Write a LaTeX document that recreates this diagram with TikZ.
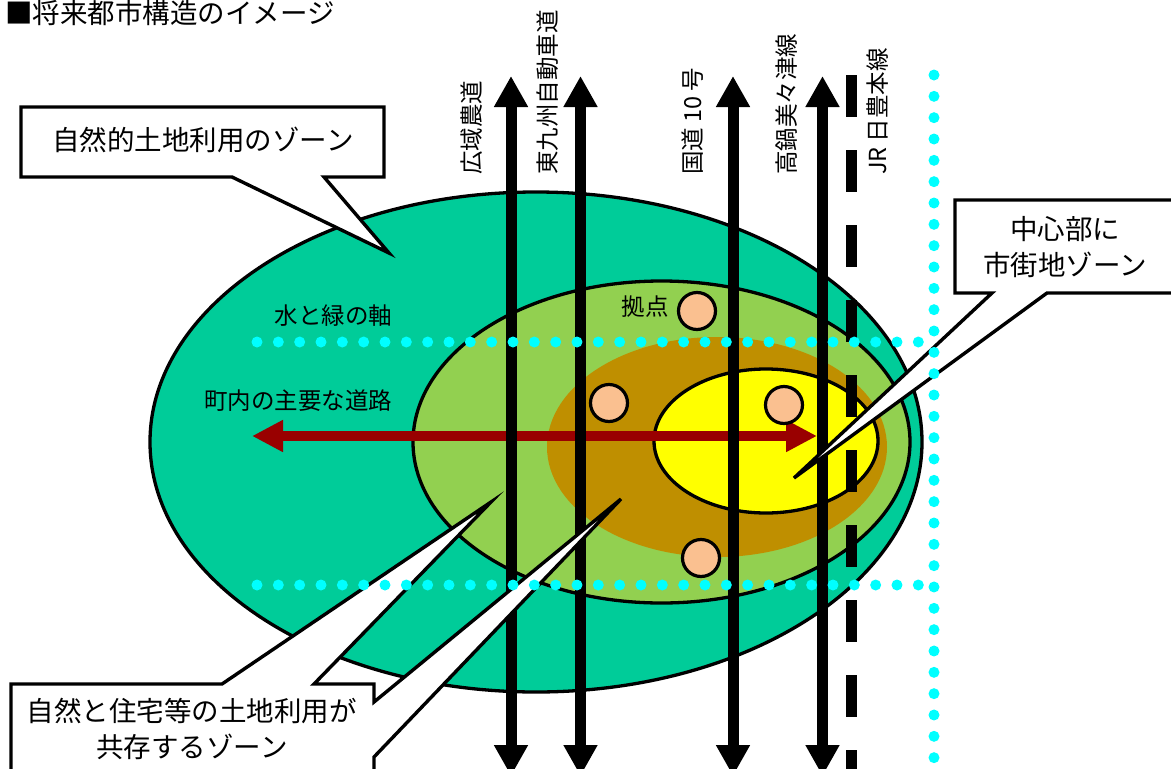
\documentclass[tikz,border=0pt]{standalone}
\usepackage{fontspec}
\setmainfont{Noto Sans CJK JP}
\usetikzlibrary{arrows.meta}
\definecolor{zoneTeal}{HTML}{00CC99}
\definecolor{zoneGreen}{HTML}{92D050}
\definecolor{zoneBrown}{HTML}{BF8F00}
\definecolor{zoneYellow}{HTML}{FFFF00}
\definecolor{baseDot}{HTML}{FAC090}
\definecolor{mainRoad}{HTML}{990000}
\definecolor{axisCyan}{HTML}{00FFFF}
\tikzset{
  zoneline/.style={draw=black, line width=3.3pt},
  roadline/.style={line width=11pt, black, {Triangle[length=31pt,width=32pt]}-{Triangle[length=31pt,width=32pt]}},
  jrline/.style={line width=11pt, black, dash pattern=on 42pt off 33pt},
  redroad/.style={line width=10pt, mainRoad, {Triangle[length=31pt,width=30pt]}-{Triangle[length=31pt,width=30pt]}},
  basept/.style={fill=baseDot, draw=black, line width=3.2pt},
  callout/.style={fill=white, draw=black, line width=3.4pt, line join=miter},
  bigtext/.style={font=\fontsize{27.5}{36}\selectfont, inner sep=0pt, align=center},
  smalltext/.style={font=\fontsize{23.5}{28}\selectfont, inner sep=0pt},
  vlabel/.style={smalltext, rotate=90, anchor=west},
  cyandot/.style={fill=axisCyan}
}
\begin{document}
\begin{tikzpicture}[x=1pt,y=-1pt]
\useasboundingbox (0,0) rectangle (1171,769);
% zones
\draw[zoneline, fill=zoneTeal] (536,442) ellipse [x radius=386, y radius=250];
\draw[zoneline, fill=zoneGreen] (661.5,442) ellipse [x radius=248.5, y radius=161];
\fill[zoneBrown] (717,447) ellipse [x radius=170, y radius=110];
\draw[zoneline, fill=zoneYellow] (766,441) ellipse [x radius=112, y radius=72];
% main town road
\coordinate (rwest) at (252,436);
\coordinate (reast) at (817,436);
\draw[redroad] (rwest) -- (reast);
% vertical roads
\coordinate (r1t) at (511,76);  \coordinate (r1b) at (511,776);
\coordinate (r2t) at (580.5,76); \coordinate (r2b) at (580.5,776);
\coordinate (r3t) at (733,76);  \coordinate (r3b) at (733,776);
\coordinate (r4t) at (822.5,76); \coordinate (r4b) at (822.5,776);
\coordinate (jrt) at (851,75);  \coordinate (jrb) at (851,780);
\draw[roadline] (r1t) -- (r1b);
\draw[roadline] (r2t) -- (r2b);
\draw[roadline] (r3t) -- (r3b);
\draw[roadline] (r4t) -- (r4b);
\draw[jrline] (jrt) -- (jrb);
% bases
\draw[basept] (697,311) circle [radius=18.5];
\draw[basept] (609,403) circle [radius=18.5];
\draw[basept] (784,405) circle [radius=18.5];
\draw[basept] (701,558) circle [radius=18.5];
% labels
\node[anchor=base west, font=\fontsize{27.5}{30}\selectfont, inner sep=0pt] (title) at (5,23) {■将来都市構造のイメージ};
\node[vlabel] (l1) at (472,175) {広域農道};
\node[vlabel] (l2) at (548,175) {東九州自動車道};
\node[vlabel] (l3) at (693,175) {国道 10 号};
\node[vlabel] (l4) at (787,175) {高鍋美々津線};
\node[vlabel] (l5) at (878,175) {JR 日豊本線};
\node[smalltext] (axis) at (333.5,316) {水と緑の軸};
\node[smalltext] (road) at (298,401) {町内の主要な道路};
\node[smalltext] (kyoten) at (645,307) {拠点};
% callouts
\draw[callout] (21,107) -- (384,107) -- (384,177) -- (324,177) -- (389,253) -- (232,177) -- (21,177) -- cycle;
\node[bigtext] (c1) at (203,140) {自然的土地利用のゾーン};
\draw[callout] (955,200) -- (1185,200) -- (1185,293) -- (1047,293) -- (794,478) -- (992,293) -- (955,293) -- cycle;
\node[bigtext] (c2) at (1065,247.5) {中心部に\\市街地ゾーン};
\draw[callout] (11,684) -- (222,684) -- (491,502) -- (314,684) -- (374,684) -- (374,702) -- (621,499) -- (374,757) -- (374,785) -- (11,785) -- cycle;
\node[bigtext] (c3) at (192,728.5) {自然と住宅等の土地利用が\\共存するゾーン};
% water and green axes
\foreach \i in {0,...,31} {
  \fill[cyandot] ({257+21.333*\i},342) circle [radius=5.5];
  \fill[cyandot] ({257+21.333*\i},585) circle [radius=5.5];
}
\foreach \j in {0,...,32} {
  \fill[cyandot] (934,{75+21.333*\j}) circle [radius=5.5];
}
\end{tikzpicture}
\end{document}
